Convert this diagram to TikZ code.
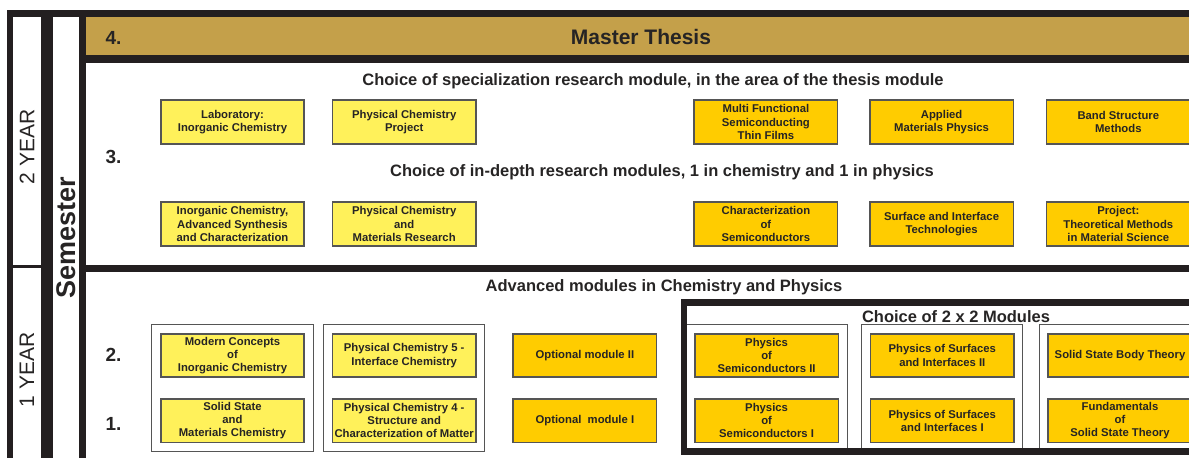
\documentclass[tikz,border=0pt]{standalone}
\usepackage{fontspec}
\setmainfont{Liberation Sans}
\usepackage{tikz}
\usetikzlibrary{positioning,fit,backgrounds}
\definecolor{thesisgold}{RGB}{196,160,74}
\definecolor{chemyellow}{RGB}{255,241,90}
\definecolor{physorange}{RGB}{255,204,0}
\definecolor{inkgray}{RGB}{38,36,36}
\definecolor{framegray}{RGB}{85,85,85}
\definecolor{barblack}{RGB}{35,31,32}

\begin{document}
\begin{tikzpicture}[x=1pt, y=-1pt,
    module/.style={rectangle, draw=framegray, line width=1.6pt,
                   minimum width=143.5pt, minimum height=43.5pt,
                   inner sep=1pt, align=center, text=inkgray,
                   font=\fontsize{11.3}{13.2}\selectfont\bfseries},
    chem/.style={module, fill=chemyellow},
    phys/.style={module, fill=physorange},
    tall/.style={minimum height=44.5pt},
    grp/.style={rectangle, draw=framegray, line width=1pt, inner sep=8pt},
    head/.style={text=inkgray, font=\fontsize{16.5}{19}\selectfont\bfseries},
    num/.style={text=inkgray, anchor=west, font=\fontsize{19}{22}\selectfont\bfseries},
    yr/.style={text=inkgray, rotate=90, font=\fontsize{21}{24}\selectfont},
    bar/.style={fill=barblack},
  ]
  \useasboundingbox (0,0) rectangle (1189,458);
  \clip (0,0) rectangle (1189,458);

  %% FRAME -- year and semester columns, thesis band
  \fill[bar] (7,10) rectangle (1189,17);
  \fill[bar] (7,10) rectangle (13,458);
  \fill[bar] (41,16) rectangle (53,458);
  \fill[bar] (79,10) rectangle (86,458);
  \fill[thesisgold] (86,17) rectangle (1189,55);
  \fill[bar] (86,55) rectangle (1189,63);
  \fill[bar] (86,265) rectangle (1189,272);
  \fill[bar] (13,265) rectangle (41,267.5);

  \node[yr] (yr2) at (27,147) {2 YEAR};
  \node[yr] (yr1) at (27,370) {1 YEAR};
  \node[yr, font=\fontsize{27}{30}\selectfont\bfseries] (sem) at (66,238) {Semester};

  %% SEMESTER 4
  \node[num] (s4) at (102,38) {4.};
  \node[text=inkgray, font=\fontsize{21}{24}\selectfont\bfseries] (thesis) at (641,37) {Master Thesis};

  %% SEMESTER 3
  \node[num] (s3) at (102,157) {3.};
  \node[head] (spec) at (653,81)
    {Choice of specialization research module, in the area of the thesis module};
  \node[head] (deep) at (662,172)
    {Choice of in-depth research modules, 1 in chemistry and 1 in physics};

  \node[chem, tall] (lab) at (232.5,122) {Laboratory:\\Inorganic Chemistry};
  \node[chem, tall, right=26.6pt of lab] (pcproj) {Physical Chemistry\\Project};
  \node[phys, tall, right=216.6pt of pcproj] (mfilm) {Multi Functional\\Semiconducting\\Thin Films};
  \node[phys, tall, right=30.6pt of mfilm] (applied) {Applied\\Materials Physics};
  \node[phys, tall, right=31.6pt of applied] (band) {Band Structure\\Methods};

  \node[chem, tall] (inorg) at (232.5,224) {Inorganic Chemistry,\\Advanced Synthesis\\and Characterization};
  \node[chem, tall, right=26.6pt of inorg] (pcmat) {Physical Chemistry\\and\\Materials Research};
  \node[phys, tall, right=216.6pt of pcmat] (charsc) {Characterization\\of\\Semiconductors};
  \node[phys, tall, right=30.6pt of charsc] (surftech) {Surface and Interface\\Technologies};
  \node[phys, tall, right=31.6pt of surftech] (theo) {Project:\\Theoretical Methods\\in Material Science};

  %% SEMESTERS 1 AND 2
  \node[head] (adv) at (664,287) {Advanced modules in Chemistry and Physics};
  \node[num] (s2) at (102,355) {2.};
  \node[num] (s1) at (102,424) {1.};

  \node[chem] (modern) at (232.5,355.5) {Modern Concepts\\of\\Inorganic Chemistry};
  \node[chem, right=26.6pt of modern] (pc5) {Physical Chemistry 5 -\\Interface Chemistry};
  \node[phys, right=35.6pt of pc5] (opt2) {Optional module II};
  \node[phys, right=36.6pt of opt2] (semi2) {Physics\\of\\Semiconductors II};
  \node[phys, right=30.6pt of semi2] (surf2) {Physics of Surfaces\\and Interfaces II};
  \node[phys, right=32.6pt of surf2] (ssbody) {Solid State Body Theory};

  \node[chem, below=20pt of modern] (solid) {Solid State\\and\\Materials Chemistry};
  \node[chem, below=20pt of pc5] (pc4) {Physical Chemistry 4 -\\Structure and\\Characterization of Matter};
  \node[phys, below=20pt of opt2] (opt1) {Optional\ \ module I};
  \node[phys, below=20pt of semi2] (semi1) {Physics\\of\\Semiconductors I};
  \node[phys, below=20pt of surf2] (surf1) {Physics of Surfaces\\and Interfaces I};
  \node[phys, below=20pt of ssbody] (fund) {Fundamentals\\of\\Solid State Theory};

  \begin{scope}[on background layer]
    \node[grp, fit=(modern)(solid)] (gchem) {};
    \node[grp, fit=(pc5)(pc4)] (gpc) {};
    \node[grp, fit=(semi2)(semi1)] (gsemi) {};
    \node[grp, fit=(surf2)(surf1)] (gsurf) {};
    \node[grp, fit=(ssbody)(fund)] (gtheory) {};
  \end{scope}

  \draw[draw=barblack, line width=6.5pt] (684,302.5) rectangle (1200,451.5);
  \node[head] (choice) at (956,317) {Choice of 2 x 2 Modules};

\end{tikzpicture}
\end{document}
